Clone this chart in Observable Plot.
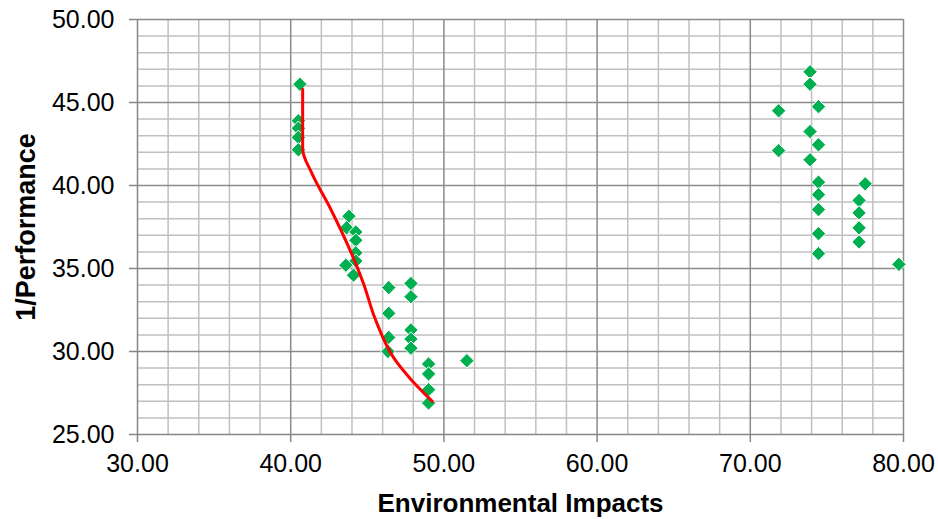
<!DOCTYPE html>
<html>
<head>
<meta charset="utf-8">
<script src="https://cdn.jsdelivr.net/npm/d3@7"></script>
<script src="https://cdn.jsdelivr.net/npm/@observablehq/plot@0.6"></script>
<style>
  html, body { margin: 0; padding: 0; background: #fff; }
  #chart svg { display: block; }
</style>
</head>
<body>
<div id="chart"></div>
<script>
// Scatter points (Environmental Impacts, 1/Performance), ordered top-to-bottom per cluster
const pointX = [
  40.6, 40.5, 40.5, 40.5, 40.5,
  43.8, 43.65, 44.25, 44.25, 44.25, 44.25, 43.6, 44.1,
  47.85, 46.4, 47.85, 46.4, 47.85, 46.4, 47.85, 47.85, 46.35,
  51.5, 49.0, 49.0, 49.0, 49.0,
  73.9, 73.9, 74.45, 71.85, 73.9, 74.45, 71.85, 73.9,
  74.45, 77.5, 74.45, 77.1, 74.45, 77.1, 77.1, 74.45, 77.1, 74.45, 79.7
];
const pointY = [
  46.1, 43.9, 43.45, 42.9, 42.15,
  38.15, 37.45, 37.2, 36.7, 35.95, 35.45, 35.2, 34.6,
  34.1, 33.85, 33.3, 32.3, 31.3, 30.85, 30.75, 30.2, 30.0,
  29.45, 29.25, 28.65, 27.7, 26.9,
  46.85, 46.1, 44.75, 44.5, 43.25, 42.45, 42.1, 41.55,
  40.2, 40.1, 39.45, 39.1, 38.55, 38.35, 37.45, 37.1, 36.6, 35.9, 35.25
];

// Red front curve (smoothed)
const frontX = [40.78, 40.78, 41.4, 42.6, 44.75, 45.5, 46.84, 47.82, 49.24];
const frontY = [45.8, 42.2, 40.7, 38.6, 34.1, 32.0, 29.46, 28.35, 27.0];

// Axis ticks and gridlines
const xTicks = [30, 40, 50, 60, 70, 80];
const yTicks = [25, 30, 35, 40, 45, 50];
const xMinor = [32, 34, 36, 38, 42, 44, 46, 48, 52, 54, 56, 58, 62, 64, 66, 68, 72, 74, 76, 78];
const yMinor = [26, 27, 28, 29, 31, 32, 33, 34, 36, 37, 38, 39, 41, 42, 43, 44, 46, 47, 48, 49];

const xTitle = "Environmental Impacts";
const yTitle = "1/Performance";

const points = pointX.map((x, i) => ({x, y: pointY[i]}));
const front = frontX.map((x, i) => ({x, y: frontY[i]}));

const font = "'Liberation Sans', Arial, Helvetica, sans-serif";

const chart = Plot.plot({
  width: 938,
  height: 519,
  marginLeft: 137,
  marginRight: 35,
  marginTop: 19,
  marginBottom: 85,
  style: {fontFamily: font, background: "#fff", color: "#000"},
  x: {domain: [30, 80]},
  y: {domain: [25, 50]},
  marks: [
    Plot.ruleX(xMinor, {stroke: "#c0c0c0", strokeWidth: 1.5}),
    Plot.ruleY(yMinor, {stroke: "#c0c0c0", strokeWidth: 1.5}),
    Plot.ruleX(xTicks.slice(1), {stroke: "#8a8a8a", strokeWidth: 1.5}),
    Plot.ruleY(yTicks.slice(1), {stroke: "#8a8a8a", strokeWidth: 1.5}),
    Plot.ruleX([30], {stroke: "#868686", strokeWidth: 1.5}),
    Plot.ruleY([25], {stroke: "#868686", strokeWidth: 1.5}),
    Plot.axisX({ticks: xTicks, tickFormat: d => d.toFixed(2), tickSize: 8, tickPadding: 12,
      fontSize: 25, stroke: "#868686", strokeWidth: 1.5, label: null}),
    Plot.axisY({ticks: yTicks, tickFormat: d => d.toFixed(2), tickSize: 8, tickPadding: 15,
      fontSize: 25, stroke: "#868686", strokeWidth: 1.5, label: null}),
    Plot.dot(points, {x: "x", y: "y", symbol: "diamond2", r: 6.5, fill: "#00b050", stroke: "#fff", strokeWidth: 1}),
    Plot.line(front, {x: "x", y: "y", curve: "monotone-y", stroke: "#ff0000", strokeWidth: 3}),
    Plot.text([xTitle], {frameAnchor: "bottom", dy: 77, fontSize: 26, fontWeight: "bold", fill: "#000"}),
    Plot.text([yTitle], {frameAnchor: "left", textAnchor: "middle", dx: -111, rotate: -90, fontSize: 27, fontWeight: "bold", fill: "#000"})
  ]
});

document.getElementById("chart").appendChild(chart);
</script>
</body>
</html>
